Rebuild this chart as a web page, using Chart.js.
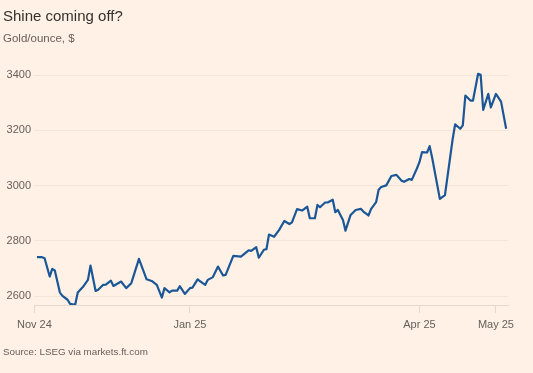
<!DOCTYPE html>
<html>
<head>
<meta charset="utf-8">
<script src="https://cdn.jsdelivr.net/npm/chart.js@4.4.1/dist/chart.umd.min.js"></script>
<style>
  html, body { margin: 0; padding: 0; background: #fff1e5; }
  #wrap { position: relative; width: 533px; height: 373px; overflow: hidden; font-family: "Liberation Sans", Arial, sans-serif; }
  #chart { position: absolute; left: 0; top: 0; }
  .txt { position: absolute; left: 3px; white-space: nowrap; }
  #title { top: 8px; font-size: 15px; line-height: 15px; color: #33302e; }
  #sub { top: 32.6px; font-size: 11.5px; line-height: 11.5px; color: #66605c; }
  #source { top: 347.4px; font-size: 9.8px; line-height: 9.8px; color: #66605c; }
</style>
</head>
<body>
<div id="wrap">
  <canvas id="chart" width="533" height="373"></canvas>
  <div class="txt" id="title">Shine coming off?</div>
  <div class="txt" id="sub">Gold/ounce, $</div>
  <div class="txt" id="source">Source: LSEG via markets.ft.com</div>
</div>
<script>
// gold price, $/ounce
var dates = [
  '2024-11-02','2024-11-04','2024-11-05','2024-11-07','2024-11-08','2024-11-09','2024-11-11','2024-11-12',
  '2024-11-14','2024-11-15','2024-11-17','2024-11-18','2024-11-20','2024-11-22','2024-11-23','2024-11-25',
  '2024-11-26','2024-11-28','2024-11-29','2024-12-01','2024-12-02','2024-12-05','2024-12-07','2024-12-09',
  '2024-12-12','2024-12-15','2024-12-17','2024-12-19','2024-12-21','2024-12-22','2024-12-24','2024-12-25',
  '2024-12-27','2024-12-28','2024-12-30','2025-01-01','2025-01-02','2025-01-04','2025-01-06','2025-01-07',
  '2025-01-08','2025-01-10','2025-01-12','2025-01-14','2025-01-15','2025-01-18','2025-01-21','2025-01-24',
  '2025-01-25','2025-01-27','2025-01-28','2025-01-30','2025-01-31','2025-02-01','2025-02-03','2025-02-05',
  '2025-02-07','2025-02-09','2025-02-10','2025-02-12','2025-02-14','2025-02-16','2025-02-17','2025-02-19',
  '2025-02-20','2025-02-21','2025-02-23','2025-02-24','2025-02-26','2025-02-27','2025-02-28','2025-03-02',
  '2025-03-03','2025-03-05','2025-03-07','2025-03-09','2025-03-10','2025-03-12','2025-03-13','2025-03-15',
  '2025-03-16','2025-03-17','2025-03-19','2025-03-21','2025-03-23','2025-03-25','2025-03-26','2025-03-28',
  '2025-03-29','2025-03-31','2025-04-01','2025-04-02','2025-04-04','2025-04-05','2025-04-06','2025-04-09',
  '2025-04-11','2025-04-14','2025-04-15','2025-04-17','2025-04-18','2025-04-19','2025-04-21','2025-04-22',
  '2025-04-24','2025-04-25','2025-04-26','2025-04-28','2025-04-29','2025-05-01','2025-05-03','2025-05-05'
];
var prices = [
  2741, 2741, 2737, 2671, 2699, 2693, 2613, 2601,
  2587, 2572, 2569, 2613, 2633, 2659, 2711, 2619,
  2623, 2641, 2642, 2656, 2637, 2653, 2629, 2647,
  2735, 2661, 2655, 2641, 2595, 2629, 2614, 2620,
  2620, 2636, 2608, 2629, 2631, 2661, 2647, 2641,
  2659, 2669, 2707, 2675, 2677, 2746, 2743, 2766,
  2764, 2777, 2739, 2768, 2770, 2823, 2815, 2840,
  2872, 2861, 2867, 2915, 2910, 2924, 2882, 2882,
  2930, 2922, 2939, 2939, 2949, 2904, 2912, 2876,
  2837, 2894, 2912, 2916, 2906, 2892, 2915, 2940,
  2985, 2995, 3001, 3035, 3039, 3018, 3014, 3024,
  3021, 3062, 3085, 3121, 3120, 3143, 3100, 2952,
  2966, 3167, 3222, 3206, 3218, 3326, 3308, 3308,
  3405, 3401, 3274, 3332, 3283, 3332, 3304, 3206
];

var tickDates = ['2024-11-01', '2025-01-01', '2025-04-01', '2025-05-01'];
var tickLabels = ['Nov 24', 'Jan 25', 'Apr 25', 'May 25'];
var yTicks = [2600, 2800, 3000, 3200, 3400];

// days since 1 Nov 2024
function dayIndex(s) {
  var p = s.split('-');
  return (Date.UTC(+p[0], +p[1] - 1, +p[2]) - Date.UTC(2024, 10, 1)) / 86400000;
}

var points = dates.map(function (d, i) { return { x: dayIndex(d), y: prices[i] }; });
var tickDays = tickDates.map(dayIndex);

var grey = '#66605c';
var tickFont = { family: '"Liberation Sans", Arial, sans-serif', size: 11 };

new Chart(document.getElementById('chart'), {
  type: 'line',
  data: {
    datasets: [{
      data: points,
      borderColor: '#1b5797',
      borderWidth: 2.2,
      borderJoinStyle: 'round',
      pointRadius: 0,
      tension: 0,
      fill: false
    }]
  },
  options: {
    responsive: false,
    animation: false,
    devicePixelRatio: 1,
    layout: { padding: { left: 0, right: 24.3, top: 69.6, bottom: 0 } },
    plugins: { legend: { display: false }, tooltip: { enabled: false } },
    scales: {
      x: {
        type: 'linear',
        min: 0,
        max: 186,
        afterBuildTicks: function (s) { s.ticks = tickDays.map(function (v) { return { value: v }; }); },
        afterFit: function (s) { s.height = 68; },
        grid: { drawOnChartArea: false, drawTicks: true, tickLength: 8, color: '#e6d8cc' },
        border: { display: true, color: '#e6d8cc' },
        ticks: {
          padding: 5,
          maxRotation: 0,
          autoSkip: false,
          color: grey,
          font: tickFont,
          callback: function (v) { var i = tickDays.indexOf(v); return i >= 0 ? tickLabels[i] : ''; }
        }
      },
      y: {
        min: 2568,
        max: 3420,
        afterBuildTicks: function (s) { s.ticks = yTicks.map(function (v) { return { value: v }; }); },
        afterFit: function (s) { s.width = 34.4; },
        grid: { color: '#f5e5d8', drawTicks: false },
        border: { display: false },
        ticks: { padding: 3.4, color: grey, font: tickFont, callback: function (v) { return String(v); } }
      }
    }
  }
});
</script>
</body>
</html>
